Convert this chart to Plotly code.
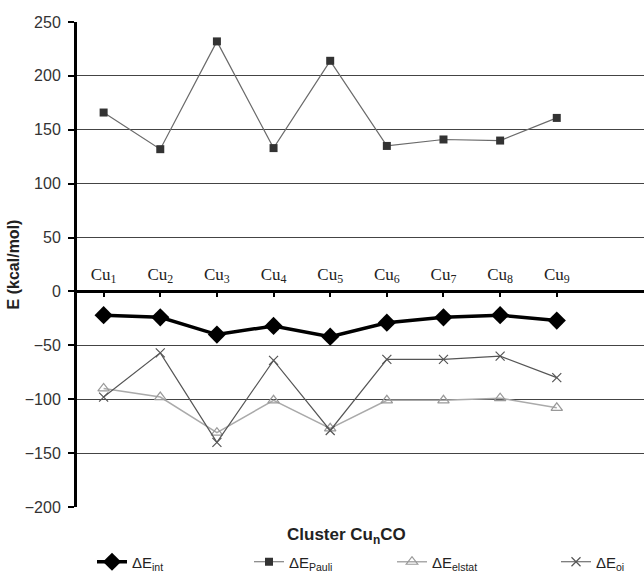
import plotly.graph_objects as go

categories = ["Cu<sub>1</sub>", "Cu<sub>2</sub>", "Cu<sub>3</sub>", "Cu<sub>4</sub>", "Cu<sub>5</sub>",
              "Cu<sub>6</sub>", "Cu<sub>7</sub>", "Cu<sub>8</sub>", "Cu<sub>9</sub>"]
e_int = [-22, -24, -40, -32, -42, -29, -24, -22, -27]
e_pauli = [166, 132, 232, 133, 214, 135, 141, 140, 161]
e_elstat = [-90, -98, -131, -101, -127, -101, -101, -99, -108]
e_oi = [-98, -57, -140, -64, -129, -63, -63, -60, -80]
y_ticks = [250, 200, 150, 100, 50, 0, -50, -100, -150, -200]

xs = list(range(len(categories)))

fig = go.Figure()
fig.add_trace(go.Scatter(x=xs, y=e_int, mode="lines+markers", name="ΔE<sub>int</sub>",
                         line=dict(color="black", width=3.5),
                         marker=dict(symbol="diamond", size=14, color="black"),
                         legend="legend"))
fig.add_trace(go.Scatter(x=xs, y=e_pauli, mode="lines+markers", name="ΔE<sub>Pauli</sub>",
                         line=dict(color="#6a6a6a", width=1.2),
                         marker=dict(symbol="square", size=8, color="#333333"),
                         legend="legend2"))
fig.add_trace(go.Scatter(x=xs, y=e_elstat, mode="lines+markers", name="ΔE<sub>elstat</sub>",
                         line=dict(color="#aaaaaa", width=1.5),
                         marker=dict(symbol="triangle-up-open", size=10, color="#999999",
                                     line=dict(width=1.2)),
                         legend="legend3"))
fig.add_trace(go.Scatter(x=xs, y=e_oi, mode="lines+markers", name="ΔE<sub>oi</sub>",
                         line=dict(color="#555555", width=1.2),
                         marker=dict(symbol="x-thin-open", size=9, color="#555555",
                                     line=dict(width=1.2, color="#555555")),
                         legend="legend4"))

leg_common = dict(orientation="h", yref="container", y=(574 - 562) / 574, yanchor="middle",
                  xref="container",
                  font=dict(size=15, color="#222"), bgcolor="rgba(0,0,0,0)")

fig.update_layout(
    width=644, height=574,
    margin=dict(l=77, r=0, t=22, b=67, autoexpand=False),
    plot_bgcolor="white", paper_bgcolor="white",
    font=dict(family="Liberation Sans, Arial, sans-serif", size=12, color="#222"),
    xaxis=dict(
        range=[-0.47, 9.54],
        tickmode="array", tickvals=xs, ticktext=categories,
        anchor="free", position=200/450, side="top",
        showline=True, linecolor="black", linewidth=3,
        ticks="inside", ticklen=4, tickwidth=2, tickcolor="black",
        tickson="boundaries", ticklabelstandoff=4,
        showgrid=False, zeroline=False,
        tickfont=dict(family="Liberation Serif, Times New Roman, serif", size=17, color="#222"),
    ),
    yaxis=dict(
        range=[-200, 250],
        tickmode="array", tickvals=y_ticks,
        showline=True, linecolor="black", linewidth=3,
        ticks="outside", ticklen=6, tickwidth=2, tickcolor="black",
        ticklabelstandoff=4,
        showgrid=True, gridcolor="#444444", gridwidth=1,
        zeroline=False,
        tickfont=dict(size=16, color="#333"),
        title=dict(text="<b>E (kcal/mol)</b>", font=dict(size=16, color="#222"), standoff=2),
    ),
    legend=dict(x=92 / 644, xanchor="left", **leg_common),
    legend2=dict(x=249 / 644, xanchor="left", **leg_common),
    legend3=dict(x=392 / 644, xanchor="left", **leg_common),
    legend4=dict(x=556 / 644, xanchor="left", **leg_common),
    showlegend=True,
)

fig.add_annotation(text="<b>Cluster Cu<sub>n</sub>CO</b>", xref="paper", yref="paper",
                   x=0.475, y=-0.06, xanchor="center", yanchor="middle", showarrow=False,
                   font=dict(size=17, color="#222"))

fig.write_html("out.html", config={"displayModeBar": False},
               post_script="document.body.style.margin='0px';document.body.style.overflow='hidden';")
